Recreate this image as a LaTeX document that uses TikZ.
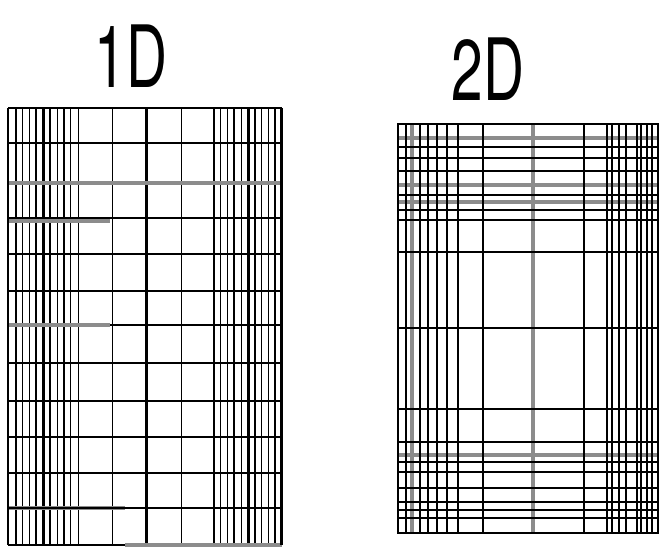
\documentclass[tikz,border=0pt]{standalone}
\usepackage{fontspec}
\setsansfont{TeX Gyre Heros}
\usepackage{amsmath}

\begin{document}
\begin{tikzpicture}[x=1pt, y=-1pt,
    thinline/.style={line width=1.4pt},
    heavyline/.style={line width=2.6pt},
    greyline/.style={line width=3.6pt, black!45},
    titlefont/.style={font=\sffamily\fontsize{86}{86}\selectfont, xscale=0.66, anchor=base, inner sep=0pt}]
            \useasboundingbox (0,0) rectangle (660,549);
            % titles
            \node[titlefont] (title1d) at (131,87) {1D};
            \node[titlefont] (title2d) at (488,100) {2D};
            % 1D mesh: uniform rows, columns packed at both sides
            \foreach \x in {16,22.7,29.3,36,50,57.3,64,70.7,78.3,112.7,181.7,214,220.7,227.3,234,241.7,255,261.7,268.3,275}
                \draw[thinline] (\x,108) -- (\x,545);
            \foreach \x in {43.3,146.7,248.3}
                \draw[heavyline] (\x,108) -- (\x,545);
            \draw[greyline] (8,183) -- (281.7,183);
            \draw[greyline] (8,221) -- (110,221);
            \draw[greyline] (8,325) -- (110,325);
            \draw[greyline] (8,508) -- (125,508);
            \draw[greyline] (125,545) -- (281.7,545);
            \foreach \y in {143,218,254,291,363,401,508}
                \draw[thinline] (8,\y) -- (281.7,\y);
            \draw[heavyline] (110,325) -- (281.7,325);
            \draw[heavyline] (8,437) -- (281.7,437);
            \draw[heavyline] (8,473) -- (281.7,473);
            \draw[heavyline] (8,108) -- (281.7,108);
            \draw[heavyline] (8,545) -- (125,545);
            \draw[thinline] (8,108) -- (8,545);
            \draw[heavyline] (281.7,108) -- (281.7,545);
            % 2D mesh: rows and columns packed at all sides
            \foreach \x in {412,533}
                \draw[greyline] (\x,124) -- (\x,533);
            \foreach \y in {138,185,202,455}
                \draw[greyline] (398,\y) -- (658,\y);
            \foreach \x in {406,420,428,437,458,483,607,612,619,626,641,647,652}
                \draw[thinline] (\x,124) -- (\x,533);
            \foreach \x in {447,584,637}
                \draw[heavyline] (\x,124) -- (\x,533);
            \foreach \y in {147,158,195,210,409,462,488,510}
                \draw[thinline] (398,\y) -- (658,\y);
            \foreach \y in {171,220,252,328,442,472,502,518}
                \draw[heavyline] (398,\y) -- (658,\y);
            \draw[thinline] (398,124) rectangle (658,533);
        \end{tikzpicture}
\end{document}
